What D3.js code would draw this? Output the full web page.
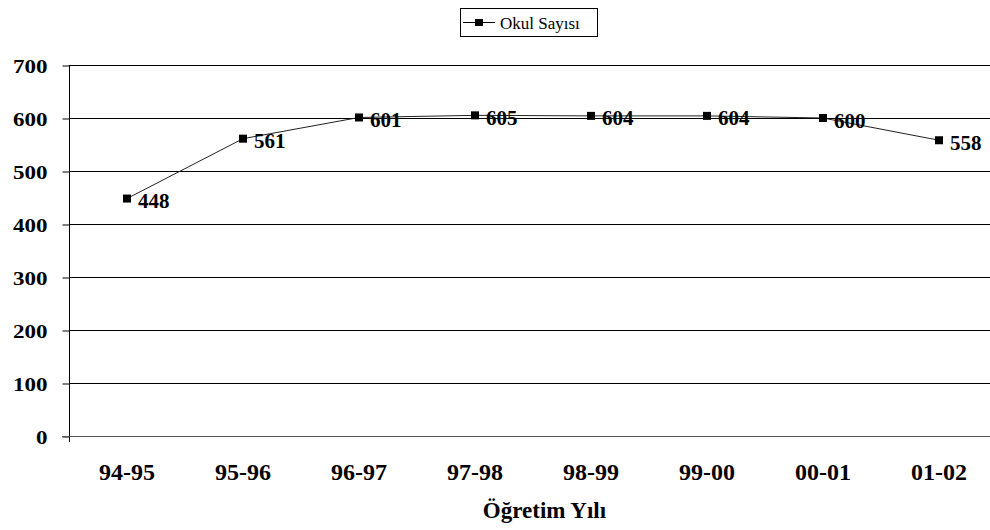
<!DOCTYPE html>
<html><head><meta charset="utf-8">
<script src="https://cdn.jsdelivr.net/npm/d3@7"></script>
<style>body{margin:0;background:#fff}svg{display:block}
svg text{font-family:"Liberation Serif","Times New Roman",Times,serif !important;font-weight:bold;fill:#000}</style>
</head><body>
<svg id="c" width="990" height="530"></svg>
<script>
const categories = ["94-95","95-96","96-97","97-98","98-99","99-00","00-01","01-02"];
const values = [448, 561, 601, 605, 604, 604, 600, 558];
const yTicks = [0,100,200,300,400,500,600,700];
const seriesName = "Okul Sayısı";
const xTitle = "Öğretim Yılı";

const svg = d3.select("#c");
const L = 69, R = 997, T = 65, B = 436;
const x = d3.scaleBand().domain(categories).range([L, R]);
const y = d3.scaleLinear().domain([0, 700]).range([B, T]);

// gridlines
svg.append("g").selectAll("line").data(yTicks.filter(d=>d>0)).join("line")
  .attr("x1", L).attr("x2", 990).attr("y1", d=>y(d)+0.5).attr("y2", d=>y(d)+0.5)
  .attr("stroke", "#000").attr("stroke-width", 1);

// y axis
const ya = svg.append("g").attr("transform", `translate(${L+0.5},0)`)
  .call(d3.axisLeft(y).tickValues(yTicks).tickSize(7).tickFormat(d3.format("d")));
ya.select(".domain").attr("stroke", "#000").attr("d", `M0,${T}V${B+6}`);
ya.selectAll(".tick line").attr("stroke", "#000").attr("transform", "translate(0,0.5)");
ya.selectAll(".tick text").attr("font-size", 18).attr("x", 0).attr("dy", null)
  .attr("transform", "translate(-22,7.5) scale(1.28,1)");

// x axis
const xa = svg.append("g").attr("transform", `translate(0,${B+0.5})`)
  .call(d3.axisBottom(x).tickSize(0));
xa.select(".domain").attr("stroke", "#555").attr("stroke-width", 1.2).attr("d", `M${L-7},0H990`);
xa.selectAll(".tick text").attr("font-size", 24).attr("y", 0).attr("dy", null)
  .attr("transform", "translate(0,43.5)");

// line
const cx = d => x(d) + x.bandwidth()/2;
const pts = categories.map((c,i)=>[cx(c), y(values[i])]);
svg.append("path").datum(pts).attr("d", d3.line())
  .attr("fill", "none").attr("stroke", "#222").attr("stroke-width", 1);

svg.append("g").selectAll("rect").data(pts).join("rect")
  .attr("x", d=>d[0]-4).attr("y", d=>d[1]-4).attr("width", 8).attr("height", 8).attr("fill", "#000");

svg.append("g").selectAll("text").data(values).join("text")
  .attr("x", (d,i)=>pts[i][0]+11).attr("y", (d,i)=>pts[i][1]+9.5)
  .attr("font-size", 21)
  .text(d=>d);

// x title
svg.append("text").attr("x", 544.5).attr("y", 518).attr("text-anchor", "middle")
  .attr("font-size", 23).text(xTitle);

// legend
const lg = svg.append("g");
lg.append("rect").attr("x", 460.5).attr("y", 8.5).attr("width", 137).attr("height", 28)
  .attr("fill", "#fff").attr("stroke", "#000");
lg.append("line").attr("x1", 463).attr("x2", 495).attr("y1", 22.5).attr("y2", 22.5).attr("stroke", "#000");
lg.append("rect").attr("x", 475).attr("y", 19).attr("width", 8).attr("height", 7).attr("fill", "#000");
lg.append("text").attr("x", 500).attr("y", 28.5).style("font-weight", "normal")
  .attr("font-size", 17).text(seriesName);
</script>
</body></html>
